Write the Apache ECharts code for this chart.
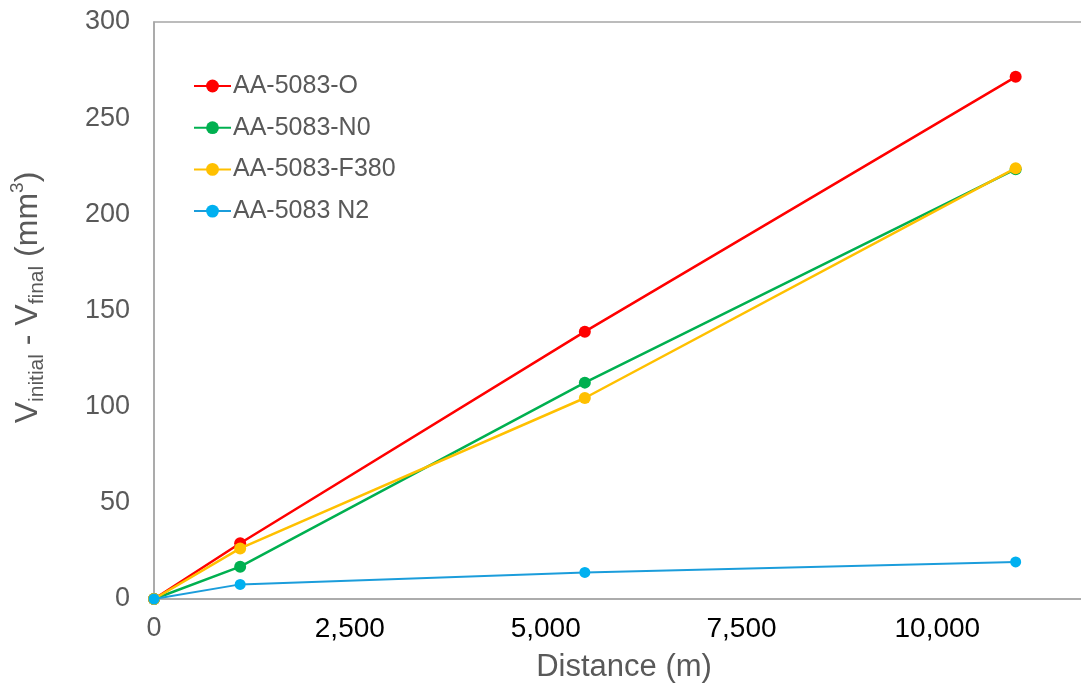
<!DOCTYPE html>
<html>
<head>
<meta charset="utf-8">
<script src="https://cdn.jsdelivr.net/npm/echarts@6/dist/echarts.min.js"></script>
<style>
html,body{margin:0;padding:0;background:#fff;}
#chart{width:1081px;height:692px;}
</style>
</head>
<body>
<div id="chart"></div>
<script>
// ---- data ----
const distance = [0, 1100, 5500, 11000];
const seriesNames = ['AA-5083-O', 'AA-5083-N0', 'AA-5083-F380', 'AA-5083 N2'];
const valsO    = [0, 29, 139, 271.5];
const valsN0   = [0, 16.8, 112.5, 223.5];
const valsF380 = [0, 26.3, 104.5, 224];
const valsN2   = [0, 7.6, 13.8, 19.3];
const xTickLabels = ['0', '2,500', '5,000', '7,500', '10,000'];
const yTickLabels = ['0', '50', '100', '150', '200', '250', '300'];

const FONT = '"Liberation Sans", Arial, sans-serif';
const GRAY = '#595959';

function pairs(vals){ return distance.map((d,i)=>[d, vals[i]]); }

const lineColors   = ['#FF0000', '#00B050', '#FFC000', '#1B9DDB'];
const markerColors = ['#FF0000', '#00B050', '#FFC000', '#00B0F0'];
const allVals = [valsO, valsN0, valsF380, valsN2];

const series = seriesNames.map((name, k) => ({
  name: name,
  type: 'line',
  data: pairs(allVals[k]),
  symbol: 'circle',
  symbolSize: k === 3 ? 11 : 12,
  showSymbol: true,
  lineStyle: { color: lineColors[k], width: k === 3 ? 2 : 2.5 },
  itemStyle: { color: markerColors[k] },
  emphasis: { disabled: true },
  z: 2 + k,
  animation: false
}));

const chart = echarts.init(document.getElementById('chart'), null, {renderer: 'canvas'});
chart.setOption({
  backgroundColor: '#ffffff',
  animation: false,
  textStyle: { fontFamily: FONT },
  grid: {
    left: 154, top: 22, bottom: 93, right: -13,
    show: true, borderColor: '#A6A6A6', borderWidth: 1.5,
    outerBoundsMode: 'none'
  },
  legend: {
    orient: 'vertical',
    left: 193, top: 72,
    padding: 0,
    itemWidth: 37, itemHeight: 16,
    itemGap: 13.7,
    data: seriesNames,
    textStyle: { fontFamily: FONT, fontSize: 25, color: GRAY, lineHeight: 28, padding: [0,0,0,-3] }
  },
  xAxis: {
    type: 'value',
    min: 0, max: 12000, interval: 2500,
    name: 'Distance (m)',
    nameLocation: 'middle',
    nameGap: 53,
    nameTextStyle: { fontFamily: FONT, fontSize: 31, color: GRAY },
    axisLine: { show: true, lineStyle: { color: '#A6A6A6', width: 1.5 } },
    axisTick: { show: false },
    splitLine: { show: false },
    axisLabel: {
      margin: 16,
      showMaxLabel: false,
      fontFamily: FONT,
      formatter: function (v) {
        const idx = Math.round(v / 2500);
        if (Math.abs(v - idx * 2500) > 1e-6 || idx >= xTickLabels.length) return '';
        return idx === 0 ? '{g|' + xTickLabels[idx] + '}' : '{k|' + xTickLabels[idx] + '}';
      },
      rich: {
        g: { fontFamily: FONT, fontSize: 27, color: GRAY },
        k: { fontFamily: FONT, fontSize: 28, color: '#000000' }
      }
    }
  },
  yAxis: {
    type: 'value',
    min: 0, max: 300, interval: 50,
    name: '{m|V}{s|initial}{m| - V}{s|final}{m| (mm}{p|3}{m|)}',
    nameLocation: 'middle',
    nameRotate: 90,
    nameGap: 106,
    nameTextStyle: {
      fontFamily: FONT, color: GRAY,
      padding: [0, 0, 0, 26],
      rich: {
        m: { fontFamily: FONT, fontSize: 32, color: GRAY, lineHeight: 40 },
        s: { fontFamily: FONT, fontSize: 21, color: GRAY, lineHeight: 40, verticalAlign: 'bottom' },
        p: { fontFamily: FONT, fontSize: 19, color: GRAY, lineHeight: 40, verticalAlign: 'top' }
      }
    },
    axisLine: { show: true, lineStyle: { color: '#A6A6A6', width: 1.5 } },
    axisTick: { show: false },
    splitLine: { show: false },
    axisLabel: {
      margin: 24,
      fontFamily: FONT, fontSize: 27, color: GRAY,
      formatter: function (v) {
        const idx = Math.round(v / 50);
        return yTickLabels[idx] !== undefined ? yTickLabels[idx] : '';
      }
    }
  },
  series: series
});
</script>
</body>
</html>
